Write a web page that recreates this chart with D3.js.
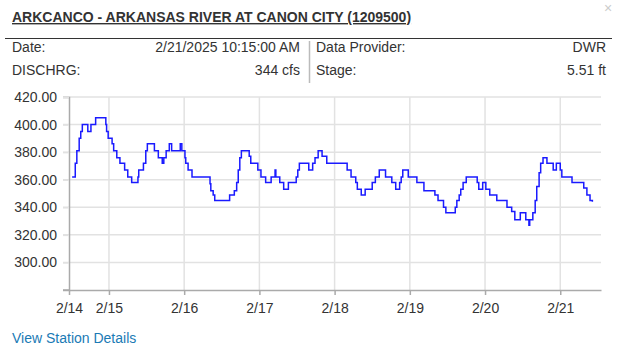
<!DOCTYPE html>
<html>
<head>
<meta charset="utf-8">
<script src="https://cdn.jsdelivr.net/npm/d3@7"></script>
<style>
  html, body { margin: 0; padding: 0; background: #fff; }
  svg { display: block; font-family: "Liberation Sans", Arial, sans-serif; }
</style>
</head>
<body>
<div id="chart"></div>
<script>
// Station popup: discharge over the last week, stepped 15-minute readings.
const W = 619, H = 349;
const M = { left: 69, right: 18, top: 97, bottom: 59 };
const FONT = '"Liberation Sans", Arial, sans-serif';

const title = 'ARKCANCO - ARKANSAS RIVER AT CANON CITY (1209500)';
const infoLeft = [['Date:', '2/21/2025 10:15:00 AM'], ['DISCHRG:', '344 cfs']];
const infoRight = [['Data Provider:', 'DWR'], ['Stage:', '5.51 ft']];

// hours after 2/14/2025 00:00, and the discharge (cfs) from that time on
const hours = [
  12.25, 13.25, 13.75, 14.5, 15, 15.5, 17.25, 18.25, 19.75, 23, 23.25, 23.75,
  25, 25.5, 26.5, 27.5, 29, 30, 31.25, 33.25, 33.5, 35, 35.75, 36.25,
  38.5, 39.75, 41, 41.5, 42.25, 43.25, 44, 46.75, 47.25, 48.25, 48.5, 49.25,
  50.5, 56.25, 56.5, 57.25, 57.75, 62.5, 64, 64.75, 65.25, 65.75, 66.25, 68.75,
  69.25, 71.5, 72.5, 74, 75.75, 77, 77.25, 78.5, 79.75, 81.25, 83.75, 84.25,
  84.75, 87.75, 89, 89.75, 90.75, 92, 93.5, 100, 101.25, 102.75, 103.25, 104.5,
  105.75, 108, 109, 110.25, 112.25, 114.25, 115.5, 116.75, 117.25, 117.75, 119.5, 122.25,
  124.5, 128, 129, 130.75, 131.5, 134.5, 135, 135.75, 136.25, 137, 138, 141.5,
  142, 143.25, 144.25, 145.5, 147.75, 151, 152.5, 153.5, 155.25, 157, 158, 158.25,
  159.25, 160, 160.5, 161.25, 161.75, 162.5, 163.75, 165.75, 166.75, 168, 168.5, 171.75,
  175.5, 176.5, 177.5, 178.25
];
const cfs = [
  362, 372, 381, 390, 395, 400, 395, 400, 405, 400, 395, 390,
  386, 381, 376, 372, 367, 362, 358, 362, 367, 372, 381, 386,
  381, 376, 372, 376, 381, 386, 381, 386, 381, 376, 372, 367,
  362, 357, 352, 349, 345, 349, 352, 358, 367, 376, 381, 377,
  372, 367, 362, 358, 362, 367, 362, 358, 353, 358, 362, 367,
  372, 367, 372, 376, 381, 377, 372, 367, 362, 358, 353, 349,
  353, 358, 362, 367, 362, 358, 353, 358, 362, 367, 362, 358,
  352, 349, 345, 340, 336, 340, 345, 349, 353, 358, 362, 358,
  353, 358, 353, 349, 345, 340, 337, 331, 336, 331, 327, 331,
  336, 345, 355, 365, 372, 376, 372, 367, 372, 367, 362, 358,
  354, 349, 345, 344
];

const yTicks = [300, 320, 340, 360, 380, 400, 420];
const dayLabels = ['2/14', '2/15', '2/16', '2/17', '2/18', '2/19', '2/20', '2/21'];

const t0 = new Date(2025, 1, 14);
const toDate = h => new Date(t0.getTime() + h * 3600e3);
const series = hours.map((h, i) => ({ t: toDate(h), v: cfs[i] }));

const svg = d3.select('#chart').append('svg').attr('width', W).attr('height', H);
svg.append('rect').attr('width', W).attr('height', H).attr('fill', '#fff');

// ── header ──────────────────────────────────────────────────────────────────
svg.append('text').attr('x', 608).attr('y', 13).attr('text-anchor', 'middle')
  .attr('font-size', 14).attr('fill', '#ccc').text('×');
svg.append('text').attr('x', 12).attr('y', 22).attr('font-size', 14).attr('font-weight', 700)
  .attr('fill', '#333').attr('text-decoration', 'underline').text(title);
svg.append('line').attr('x1', 5).attr('x2', 612).attr('y1', 38.5).attr('y2', 38.5)
  .attr('stroke', '#333').attr('stroke-width', 1);
svg.append('line').attr('x1', 309.5).attr('x2', 309.5).attr('y1', 41).attr('y2', 83)
  .attr('stroke', '#bbb').attr('stroke-width', 1.5);

function infoRows(rows, xl, xr) {
  rows.forEach(([k, v], i) => {
    const y = 52 + i * 23;
    svg.append('text').attr('x', xl).attr('y', y).attr('font-size', 14).attr('fill', '#333').text(k);
    svg.append('text').attr('x', xr).attr('y', y).attr('font-size', 14).attr('fill', '#333')
      .attr('text-anchor', 'end').text(v);
  });
}
infoRows(infoLeft, 12, 300);
infoRows(infoRight, 316, 606);

// ── chart ───────────────────────────────────────────────────────────────────
const domainStart = toDate(11.25), domainEnd = toDate(181);
const x = d3.scaleTime().domain([domainStart, domainEnd]).range([M.left, W - M.right]);
const y = d3.scaleLinear().domain([280, 420]).range([H - M.bottom, M.top]);

const dayTicks = dayLabels.map((_, i) => i === 0 ? domainStart : toDate(24 * i));

// horizontal grid
svg.append('g').selectAll('line').data(yTicks).join('line')
  .attr('x1', M.left - 6).attr('x2', W - M.right)
  .attr('y1', d => y(d)).attr('y2', d => y(d))
  .attr('stroke', '#e2e2e2').attr('stroke-width', 1.5);
// vertical grid
svg.append('g').selectAll('line').data(dayTicks.slice(1)).join('line')
  .attr('x1', d => x(d)).attr('x2', d => x(d))
  .attr('y1', M.top).attr('y2', H - M.bottom)
  .attr('stroke', '#e2e2e2').attr('stroke-width', 1.5);

// y axis
const yAxis = svg.append('g').attr('transform', `translate(${M.left},0)`)
  .call(d3.axisLeft(y).tickValues(yTicks).tickFormat(d3.format('.2f')).tickSize(6).tickSizeOuter(6));
yAxis.select('.domain').attr('stroke', '#aaa').attr('stroke-width', 1.5);
yAxis.selectAll('.tick line').attr('stroke', '#e2e2e2').attr('stroke-width', 1.5);
yAxis.selectAll('text').attr('font-size', 14).attr('fill', '#333')
  .attr('font-family', FONT).attr('dx', -3);
yAxis.append('line').attr('x1', -6).attr('x2', 0).attr('y1', y(280)).attr('y2', y(280))
  .attr('stroke', '#aaa').attr('stroke-width', 1.5);

// x axis
const xAxis = svg.append('g').attr('transform', `translate(0,${H - M.bottom})`)
  .call(d3.axisBottom(x).tickValues(dayTicks).tickFormat((d, i) => dayLabels[i]).tickSize(5).tickSizeOuter(0));
xAxis.select('.domain').attr('stroke', '#aaa').attr('stroke-width', 1.5);
xAxis.selectAll('.tick line').attr('stroke', '#aaa').attr('stroke-width', 1.5);
xAxis.selectAll('text').attr('font-size', 14).attr('fill', '#333')
  .attr('font-family', FONT).attr('dy', '1.05em');

// discharge line
const line = d3.line().x(d => x(d.t)).y(d => y(d.v)).curve(d3.curveStepAfter);
svg.append('path').datum(series).attr('d', line)
  .attr('fill', 'none').attr('stroke', '#1a1aff').attr('stroke-width', 1.5);

// footer link
svg.append('text').attr('x', 12).attr('y', 343).attr('font-size', 14).attr('fill', '#1a7ab5')
  .text('View Station Details');
</script>
</body>
</html>
